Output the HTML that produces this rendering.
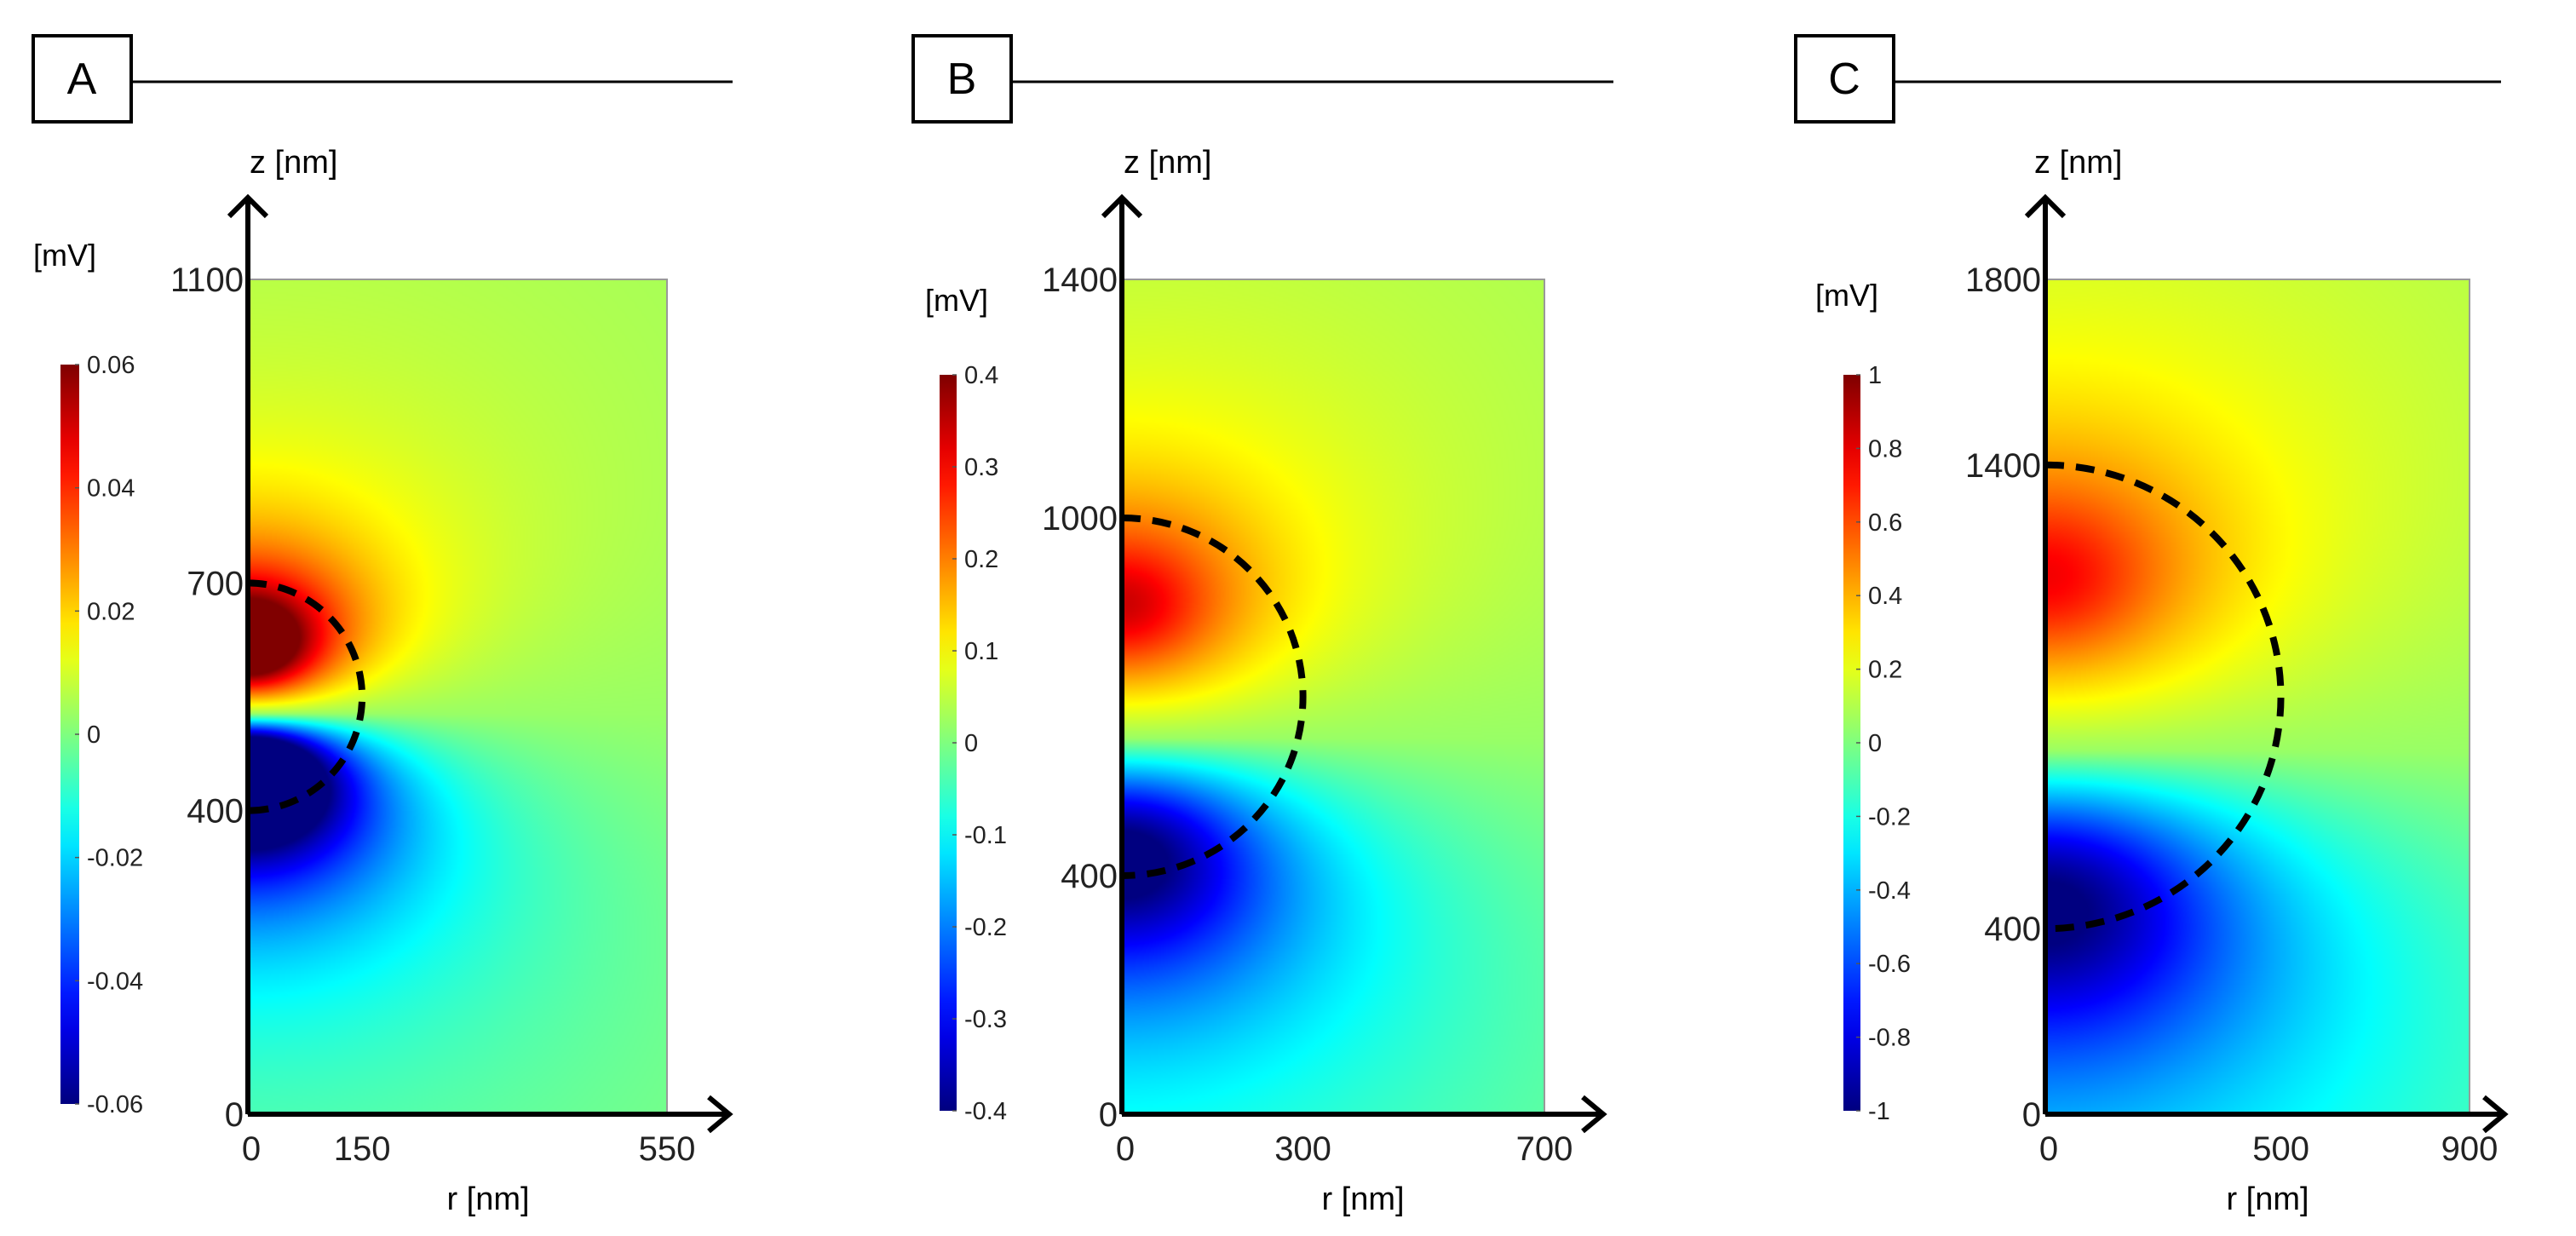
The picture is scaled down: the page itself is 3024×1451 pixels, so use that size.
<!DOCTYPE html>
<html><head><meta charset="utf-8">
<style>
html,body{margin:0;padding:0;background:#fff;}
#root{position:relative;width:3024px;height:1451px;overflow:hidden;background:#fff;font-family:"Liberation Sans",sans-serif;}
canvas{position:absolute;}
svg{position:absolute;left:0;top:0;}
</style></head>
<body>
<div id="root">
<canvas id="cA" style="left:291px;top:328px;width:492px;height:980px" width="246" height="490"></canvas>
<canvas id="cB" style="left:1317px;top:328px;width:496px;height:980px" width="248" height="490"></canvas>
<canvas id="cC" style="left:2401px;top:328px;width:498px;height:980px" width="249" height="490"></canvas>
<svg id="ov" width="3024" height="1451"></svg>
</div>
<script>
// Panel data
const panelLabels = ["A","B","C"];
const rMax = [550, 700, 900];
const zMax = [1100, 1400, 1800];
const zTicks = [[0,400,700,1100],[0,400,1000,1400],[0,400,1400,1800]];
const rTicks = [[0,150,550],[0,300,700],[0,500,900]];
const sphereCenterZ = [550, 700, 900];
const sphereRadius = [150, 300, 500];
const cbMax = [0.06, 0.4, 1];
const cbTicks = [[-0.06,-0.04,-0.02,0,0.02,0.04,0.06],[-0.4,-0.3,-0.2,-0.1,0,0.1,0.2,0.3,0.4],[-1,-0.8,-0.6,-0.4,-0.2,0,0.2,0.4,0.6,0.8,1]];
const cbTickText = [["-0.06","-0.04","-0.02","0","0.02","0.04","0.06"],["-0.4","-0.3","-0.2","-0.1","0","0.1","0.2","0.3","0.4"],["-1","-0.8","-0.6","-0.4","-0.2","0","0.2","0.4","0.6","0.8","1"]];
const peakPos = [1.5, 0.8, 0.72];   // peak positive value / colour max
const peakNeg = [1.9, 1.15, 1.1];   // peak negative value / colour max
const posChargeOffset = [0.45, 0.5, 0.5];   // in radii above centre
const negChargeOffset = [0.6, 0.85, 0.85];  // in radii below centre

// layout (not data)
const L = [
 {ax:291, right:783, box:[39,42], lineEnd:860, cb:[71,428,22,868], mv:[39,312], zlab:293, rlab:573, xend:856},
 {ax:1317, right:1813, box:[1072,42], lineEnd:1894, cb:[1103,440,20,864], mv:[1086,365], zlab:1319, rlab:1600, xend:1882},
 {ax:2401, right:2899, box:[2108,42], lineEnd:2936, cb:[2164,440,20,864], mv:[2131,359], zlab:2388, rlab:2662, xend:2940}
];
const TOP=328, BOT=1308;

function jet(t){
  t=Math.max(0,Math.min(1,t));
  const r=Math.max(0,Math.min(1,Math.min(4*t-1.5,-4*t+4.5)));
  const g=Math.max(0,Math.min(1,Math.min(4*t-0.5,-4*t+3.5)));
  const b=Math.max(0,Math.min(1,Math.min(4*t+0.5,-4*t+2.5)));
  return [r*255,g*255,b*255];
}

const NS="http://www.w3.org/2000/svg";
const ov=document.getElementById('ov');
function mk(tag,attrs,parent,text){
  const e=document.createElementNS(NS,tag);
  for(const k in attrs)e.setAttribute(k,attrs[k]);
  if(text!==undefined)e.textContent=text;
  (parent||ov).appendChild(e);return e;
}
const defs=mk('defs',{});
const grad=mk('linearGradient',{id:'jetg',x1:0,y1:1,x2:0,y2:0},defs);
for(let i=0;i<=20;i++){const c=jet(i/20);mk('stop',{offset:(i/20),'stop-color':`rgb(${c[0]|0},${c[1]|0},${c[2]|0})`},grad);}

const canv=['cA','cB','cC'];
for(let p=0;p<3;p++){
  const lay=L[p];
  const sz=(BOT-TOP)/zMax[p];
  const sx=(lay.right-lay.ax)/rMax[p];
  const zy=z=>BOT-z*sz, rx=r=>lay.ax+r*sx;
  const cv=document.getElementById(canv[p]);const ctx=cv.getContext('2d');
  const W=cv.width,H=cv.height;const img=ctx.createImageData(W,H);
  const R=sphereRadius[p], zc=sphereCenterZ[p], vm=cbMax[p];
  const zp=zc+posChargeOffset[p]*R, zn=zc-negChargeOffset[p]*R, sp=0.38*R, sn=0.55*R;
  const raw=new Float32Array(W*H);let mx=0,mn=0;
  for(let j=0;j<H;j++){for(let i=0;i<W;i++){
    const r=(i+0.5)/W*rMax[p]*0.78, z=(1-(j+0.5)/H)*zMax[p];
    const v=1/Math.sqrt(r*r+(z-zp)*(z-zp)+sp*sp)-1/Math.sqrt(r*r+(z-zn)*(z-zn)+sn*sn);
    raw[j*W+i]=v;if(v>mx)mx=v;if(v<mn)mn=v;
  }}
  for(let j=0;j<H;j++){for(let i=0;i<W;i++){
    let v=raw[j*W+i];
    v = v>0 ? v/mx*peakPos[p]*vm : v/(-mn)*peakNeg[p]*vm;
    v+=0.05*vm;
    const c=jet((v/vm+1)/2);const o=(j*W+i)*4;
    img.data[o]=c[0];img.data[o+1]=c[1];img.data[o+2]=c[2];img.data[o+3]=255;
  }}
  ctx.putImageData(img,0,0);
  const g=mk('g',{});
  const bx=mk('rect',{x:lay.box[0],y:lay.box[1],width:115,height:101,fill:'#fff',stroke:'#000','stroke-width':4},g);
  
  const bt=mk('text',{x:lay.box[0]+57,y:lay.box[1]+68,'font-size':52,'text-anchor':'middle'},g,panelLabels[p]);
  
  const hl=mk('line',{x1:lay.box[0]+115,y1:96,x2:lay.lineEnd,y2:96,stroke:'#000','stroke-width':3},g);
  
  mk('rect',{x:lay.ax,y:TOP,width:lay.right-lay.ax,height:BOT-TOP,fill:'none',stroke:'#999','stroke-width':2},g);
  const yt=zy(zc+R), yb=zy(zc-R), rr=R*sx, ry=R*sz;
  const ds=mk('path',{d:`M${lay.ax},${yt} A${rr},${ry} 0 0 1 ${lay.ax},${yb}`,fill:'none',stroke:'#000','stroke-width':8,'stroke-dasharray':'22 14'},g);
  
  const za=mk('path',{d:`M${lay.ax},${BOT} L${lay.ax},${232} M${lay.ax-22},${254} L${lay.ax},${232} L${lay.ax+22},${254}`,fill:'none',stroke:'#000','stroke-width':6},g);
  
  const ra=mk('path',{d:`M${lay.ax},${BOT} L${lay.xend},${BOT} M${lay.xend-24},${BOT-20} L${lay.xend},${BOT} L${lay.xend-24},${BOT+20}`,fill:'none',stroke:'#000','stroke-width':6},g);
  
  const zt=mk('text',{x:lay.zlab,y:203,'font-size':38},g,'z [nm]');
  
  const rt=mk('text',{x:lay.rlab,y:1420,'font-size':38,'text-anchor':'middle'},g,'r [nm]');
  
  zTicks[p].forEach(z=>{
    const t=mk('text',{x:lay.ax-5,y:zy(z)+14,'font-size':40,'text-anchor':'end',fill:'#222'},g,String(z));
    
  });
  rTicks[p].forEach(r=>{
    const t=mk('text',{x:rx(r)+(r===0?4:0),y:BOT+54,'font-size':40,'text-anchor':'middle',fill:'#222'},g,String(r));
    
  });
  const [cx,cy,cw,ch]=lay.cb;
  const cb=mk('rect',{x:cx,y:cy,width:cw,height:ch,fill:'url(#jetg)'},g);
  
  const mv=mk('text',{x:lay.mv[0],y:lay.mv[1],'font-size':36},g,'[mV]');
  
  cbTicks[p].forEach((v,i)=>{
    const y=cy+ch*(1-(v+vm)/(2*vm));
    mk('line',{x1:cx+cw-5,y1:y,x2:cx+cw,y2:y,stroke:'#555','stroke-width':1.5},g);
    const t=mk('text',{x:cx+cw+9,y:y+10,'font-size':29,fill:'#222'},g,cbTickText[p][i]);
    
  });
}
</script>
</body></html>
